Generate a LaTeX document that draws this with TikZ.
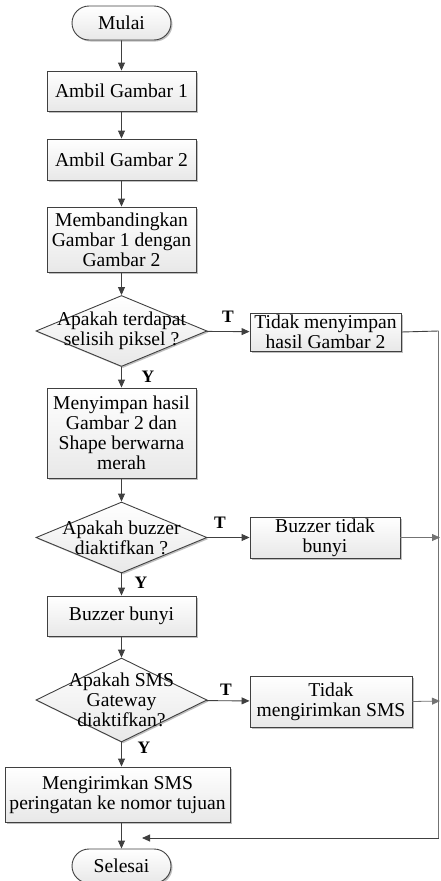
\documentclass[tikz,border=0pt]{standalone}
\usepackage{fontspec}
\setmainfont{Liberation Serif}
\usetikzlibrary{shapes.geometric,shapes.misc,arrows.meta,shadows}
\begin{document}
\begin{tikzpicture}[x=1pt,y=-1pt,
  font=\fontsize{19.6}{20}\selectfont,
  line/.style={draw=black!75, line width=0.9pt},
  arr/.style={line, -{Triangle[length=8pt,width=7pt]}},
  sideline/.style={draw=black!55, line width=0.8pt},
  sidearr/.style={sideline, -{Triangle[length=8pt,width=7pt]}},
  shad/.style={drop shadow={shadow xshift=1.5pt,shadow yshift=-1.5pt,opacity=0.25,fill=black}},
  fillgrad/.style={top color=white, bottom color=black!9},
  proc/.style={rectangle, draw=black!75, line width=0.9pt, fillgrad, shad, align=center, inner sep=0pt, minimum width=149pt},
  term/.style={rounded rectangle, draw=black!75, line width=0.9pt, fillgrad, shad, inner sep=0pt, minimum width=99pt, minimum height=34pt},
  dec/.style={diamond, draw=black!75, line width=0.9pt, fillgrad, shad, inner sep=0pt, minimum width=171pt},
  dtext/.style={align=center, inner sep=0pt},
  lbl/.style={font=\fontsize{17.5}{18}\selectfont\bfseries, inner sep=0pt}
]
\useasboundingbox (0,0) rectangle (440,881);

\node[term] (start) at (121.5,23) {Mulai};
\node[proc, minimum height=40pt] (g1) at (121.5,91) {Ambil Gambar 1};
\node[proc, minimum height=41pt] (g2) at (121.5,159.5) {Ambil Gambar 2};
\node[proc, minimum height=65pt] (cmp) at (121.5,239.5) {Membandingkan\\Gambar 1 dengan\\Gambar 2};
\node[dec, minimum height=71pt] (d1) at (121.5,331) {};
\node[dtext] (d1t) at (d1) {Apakah terdapat\\selisih piksel ?};
\node[proc, minimum width=151pt, minimum height=38pt] (nos) at (325.5,332) {Tidak menyimpan\\hasil Gambar 2};
\node[proc, minimum height=90pt] (save) at (121.5,433) {Menyimpan hasil\\Gambar 2 dan\\Shape berwarna\\merah};
\node[dec, minimum height=71pt] (d2) at (121.5,537.5) {};
\node[dtext] (d2t) at (d2) {Apakah buzzer\\diaktifkan ?};
\node[proc, minimum width=150pt, minimum height=41pt] (nobz) at (325,537.5) {Buzzer tidak\\bunyi};
\node[proc, minimum height=40pt] (bz) at (121.5,616) {Buzzer bunyi};
\node[dec, minimum height=84pt] (d3) at (121.5,700) {};
\node[dtext] (d3t) at (d3) {Apakah SMS\\Gateway\\diaktifkan?};
\node[proc, minimum width=162pt, minimum height=51pt] (nosms) at (331,701.5) {Tidak\\mengirimkan SMS};
\node[proc, minimum width=225pt, minimum height=55pt] (sms) at (117.5,794.5) {Mengirimkan SMS\\peringatan ke nomor tujuan};
\node[term] (end) at (121.5,866) {Selesai};

\node[lbl] (t1) at (228,317) {T};
\node[lbl] (y1) at (148,377) {Y};
\node[lbl] (t2) at (220,523) {T};
\node[lbl] (y2) at (141,583) {Y};
\node[lbl] (t3) at (226,690) {T};
\node[lbl] (y3) at (144,748) {Y};

\coordinate (rtop) at (438.6,331);
\coordinate (rb2) at (440,537.5);
\coordinate (rb3) at (440,701);
\coordinate (rbot) at (438.6,838);
\coordinate (ret) at (142,838);

\draw[arr] (start) -- (g1);
\draw[arr] (g1) -- (g2);
\draw[arr] (g2) -- (cmp);
\draw[arr] (cmp) -- (d1);
\draw[arr] (d1) -- (nos);
\draw[arr] (d1) -- (save);
\draw[arr] (save) -- (d2);
\draw[arr] (d2) -- (nobz);
\draw[arr] (d2) -- (bz);
\draw[arr] (bz) -- (d3);
\draw[arr] (d3) -- (nosms);
\draw[arr] (d3.south) -- (d3.south |- sms.north);
\draw[arr] (sms.south -| end) -- (end.north);

\draw[line] (nos.east) -- (rtop);
\draw[sideline] (rtop) -- (rbot);
\draw[sidearr] (nobz.east) -- (rb2);
\draw[sidearr] (nosms.east) -- (rb3);
\draw[arr] (rbot) -- (ret);
\end{tikzpicture}
\end{document}
